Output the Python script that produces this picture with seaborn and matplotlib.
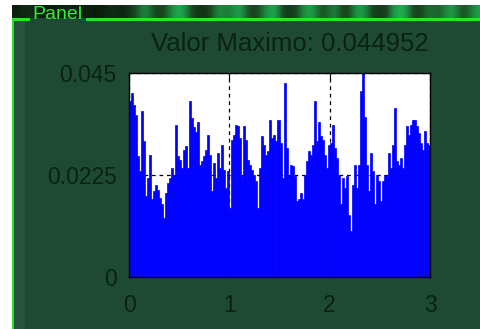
import numpy as np
import pandas as pd
import matplotlib
matplotlib.use("Agg")
import matplotlib.pyplot as plt
from matplotlib.patches import Rectangle
from matplotlib.colors import LinearSegmentedColormap
import seaborn as sns

# ---- data ----
magnitudes = [
    0.0388, 0.0406, 0.0380, 0.0358, 0.0267, 0.0234, 0.0366, 0.0300, 0.0179, 0.0218,
    0.0270, 0.0171, 0.0190, 0.0204, 0.0193, 0.0175, 0.0160, 0.0130, 0.0185, 0.0207,
    0.0218, 0.0240, 0.0226, 0.0336, 0.0267, 0.0259, 0.0240, 0.0281, 0.0288, 0.0240,
    0.0388, 0.0351, 0.0330, 0.0320,
    0.0343, 0.0248, 0.0256, 0.0267, 0.0281, 0.0314, 0.0270, 0.0189, 0.0251, 0.0218,
    0.0274, 0.0240, 0.0292, 0.0237, 0.0196, 0.0233, 0.0152, 0.0303, 0.0314, 0.0336,
    0.0332, 0.0307, 0.0222, 0.0332, 0.0303, 0.0259, 0.0248, 0.0237, 0.0226, 0.0211,
    0.0152, 0.0240, 0.0310, 0.0292, 0.0270, 0.0277, 0.0347, 0.0307, 0.0314, 0.0300,
    0.0347, 0.0296, 0.0218, 0.0428, 0.0285, 0.0226, 0.0248, 0.0244, 0.0222, 0.0167,
    0.0171, 0.0185, 0.0171, 0.0226, 0.0255, 0.0277, 0.0270, 0.0292, 0.0388, 0.0299,
    0.0343, 0.0310, 0.0303, 0.0270, 0.0240, 0.0292, 0.0296, 0.0336, 0.0285, 0.0262,
    0.0226, 0.0160, 0.0218, 0.0196, 0.0222, 0.0137,
    0.0101, 0.0204, 0.0248, 0.0196, 0.0248, 0.0410, 0.044952, 0.0354, 0.0248, 0.0189,
    0.0274, 0.0233, 0.0160, 0.0226, 0.0211, 0.0167, 0.0211, 0.0226, 0.0222, 0.0274,
    0.0240, 0.0292, 0.0373, 0.0255, 0.0248, 0.0262, 0.0240, 0.0292, 0.0332, 0.0314,
    0.0336, 0.0347, 0.0347, 0.0332, 0.0318, 0.0296, 0.0281, 0.0321, 0.0296, 0.0292,
]
x_range = (0.0, 3.0)
x_ticks = [0, 1, 2, 3]
x_tick_labels = ["0", "1", "2", "3"]
y_ticks = [0, 0.0225, 0.045]
y_tick_labels = ["0", "0.0225", "0.045"]
title_text = "Valor Maximo: 0.044952"
panel_title = "Panel"
# decorative shading of the panel's top strip (0 = dark, 1 = bright green)
strip_shades = [0.1, 0.3, 0.1, 0.05, 0.2, 0.1, 0.15, 0.05, 0.3, 0.1, 0.5, 0.8, 0.3, 0.7,
                0.9, 0.4, 0.2, 0.8, 0.6, 0.9, 0.3, 0.7, 0.9, 0.2, 0.6, 0.9, 0.4, 0.8,
                0.3, 0.9, 0.6, 0.2, 0.8, 0.9, 0.3, 0.7, 0.5, 0.9, 0.4, 0.8]

n = len(magnitudes)
step = (x_range[1] - x_range[0]) / n
centers = x_range[0] + step * (np.arange(n) + 0.5)
df = pd.DataFrame({"f": centers, "mag": magnitudes})

# ---- styling ----
W, H = 481, 329
bg = "#1e4a34"
text_col = "#0a2215"
sns.set_theme(style="white")
plt.rcParams["font.family"] = ["Liberation Sans", "DejaVu Sans"]

fig = plt.figure(figsize=(W / 100, H / 100), dpi=100)
fig.patch.set_facecolor(bg)

def px_rect(x0, y0, x1, y1, color, z=0):
    fig.patches.append(Rectangle((x0 / W, 1 - y1 / H), (x1 - x0) / W, (y1 - y0) / H,
                                 transform=fig.transFigure, facecolor=color,
                                 edgecolor="none", zorder=z))

# panel decorations
px_rect(0, 0, 12, H, "white")
px_rect(0, 0, W, 5, "white")
px_rect(14, 21, 25, H, "#29523f")
px_rect(12, 18, 14, H, "#2ee02e", z=2)
px_rect(12, 18, 30, 21, "#2ee02e", z=2)
px_rect(86, 18, W, 21, "#2ee02e", z=2)

strip_ax = fig.add_axes([12 / W, 1 - 18 / H, (W - 12) / W, 13 / H])
cmap = LinearSegmentedColormap.from_list("strip", ["#061208", "#1a4a22", "#22dd66"])
strip_ax.imshow(np.array([strip_shades]), aspect="auto", cmap=cmap, vmin=0, vmax=1,
                interpolation="bicubic")
strip_ax.set_axis_off()
fig.text(32 / W, 1 - 19 / H, panel_title, color="#33ee33", fontsize=14,
         ha="left", va="baseline", zorder=5)

# main axes
ax = fig.add_axes([129 / W, 1 - 277 / H, (430 - 129) / W, (277 - 73) / H])
ax.set_facecolor("white")
sns.histplot(data=df, x="f", weights="mag", bins=n, binrange=x_range,
             color="#0000ff", alpha=1, linewidth=0.5, edgecolor="#0000ff",
             ax=ax, zorder=2)
ax.set_xlim(*x_range)
ax.set_ylim(y_ticks[0], y_ticks[-1])
ax.set_xticks(x_ticks)
ax.set_xticklabels(x_tick_labels)
ax.set_yticks(y_ticks)
ax.set_yticklabels(y_tick_labels)
ax.set_xlabel("")
ax.set_ylabel("")
ax.set_axisbelow(True)
ax.grid(True, color="black", linestyle=(0, (3, 3)), linewidth=0.9, zorder=0)
ax.tick_params(axis="both", direction="in", length=4, width=0.8, colors="black",
               labelcolor=text_col, labelsize=16.5, top=True, right=True)
ax.tick_params(axis="x", pad=12)
ax.tick_params(axis="y", pad=9)
for s in ax.spines.values():
    s.set_color("black")
    s.set_linewidth(1.0)
    s.set_visible(True)

fig.text(290 / W, 1 - 51 / H, title_text, color=text_col, fontsize=18.5,
         ha="center", va="baseline")

fig.savefig("out.png", dpi=100, facecolor=fig.get_facecolor())
